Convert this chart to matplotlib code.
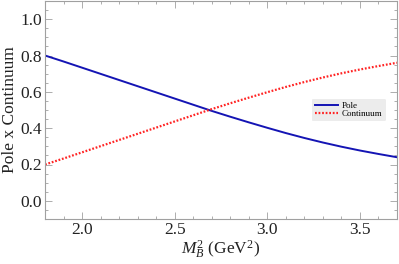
import numpy as np
import matplotlib
matplotlib.use("Agg")
import matplotlib.pyplot as plt
from matplotlib.ticker import MultipleLocator

# values
m2 = [1.8, 1.9, 2.0, 2.1, 2.2, 2.3, 2.4, 2.5, 2.6, 2.7, 2.8,
      2.9, 3.0, 3.1, 3.2, 3.3, 3.4, 3.5, 3.6, 3.7]
pole = [0.800, 0.767, 0.733, 0.699, 0.665, 0.631, 0.597, 0.563, 0.529, 0.495, 0.463,
        0.432, 0.402, 0.373, 0.346, 0.321, 0.298, 0.277, 0.258, 0.240]
continuum = [0.200, 0.233, 0.267, 0.301, 0.335, 0.369, 0.403, 0.437, 0.471, 0.505, 0.537,
             0.568, 0.598, 0.627, 0.654, 0.679, 0.702, 0.723, 0.742, 0.760]

plt.rcParams['font.family'] = 'serif'
plt.rcParams['font.serif'] = ['Liberation Serif', 'DejaVu Serif']
plt.rcParams['mathtext.fontset'] = 'custom'
plt.rcParams['mathtext.rm'] = 'Liberation Serif'
plt.rcParams['mathtext.it'] = 'Liberation Serif:italic'

fig = plt.figure(figsize=(3.99, 2.64), dpi=100)
ax = fig.add_axes([45 / 399, 1 - 219 / 264, 352 / 399, 218 / 264])

ax.plot(m2, pole, color='#1414b4', lw=1.4, label='Pole')
ax.plot(m2, continuum, color='#ff2424', lw=1.6, linestyle=(0, (0.8, 0.8)), label='Continuum')

ax.set_xlim(1.8, 3.7)
ax.set_ylim(-0.1, 1.1)
ax.xaxis.set_major_locator(MultipleLocator(0.5))
ax.xaxis.set_minor_locator(MultipleLocator(0.1))
ax.yaxis.set_major_locator(MultipleLocator(0.2))
ax.yaxis.set_minor_locator(MultipleLocator(0.05))
ax.xaxis.set_major_formatter(plt.FormatStrFormatter('%.1f'))
ax.yaxis.set_major_formatter(plt.FormatStrFormatter('%.1f'))

for s in ax.spines.values():
    s.set_color('#a0a0a0')
    s.set_linewidth(0.8)
ax.tick_params(which='both', direction='in', top=True, right=True,
               color='#a0a0a0', labelsize=12.5, labelcolor='#222222', width=0.6)
ax.tick_params(which='major', length=5, pad=2)
ax.tick_params(which='minor', length=2.5)

ax.set_xlabel(r'$M_B^2$ (GeV$^2$)', fontsize=12.5, color='#222222', labelpad=1)
ax.set_ylabel('Pole x Continuum', fontsize=12.5, color='#222222', labelpad=2)

leg = ax.legend(loc='upper left', bbox_to_anchor=(262 / 352, 125 / 218),
                fontsize=6.5, frameon=True, handlelength=2.6, handletextpad=0.4,
                borderpad=0.35, labelspacing=0.0, fancybox=True)
leg.get_frame().set_facecolor('#ececec')
leg.get_frame().set_edgecolor('none')
leg.get_frame().set_alpha(1)

fig.savefig('out.png', dpi=100)
